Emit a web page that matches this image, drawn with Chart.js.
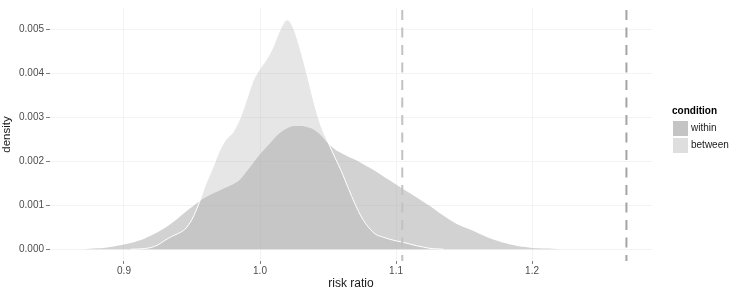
<!DOCTYPE html>
<html>
<head>
<meta charset="utf-8">
<script src="https://cdn.jsdelivr.net/npm/chart.js@4.4.1/dist/chart.umd.min.js"></script>
<style>
  body { margin: 0; background: #fff; }
</style>
</head>
<body>
<canvas id="densityChart" width="730" height="290"></canvas>
<script>
// density estimates, one value per x
const withinX = [0.870, 0.875, 0.880, 0.885, 0.890, 0.895, 0.900, 0.905, 0.910, 0.915,
  0.920, 0.925, 0.930, 0.935, 0.940, 0.945, 0.950, 0.955, 0.960, 0.965,
  0.970, 0.975, 0.980, 0.985, 0.990, 0.995, 1.000, 1.005, 1.010, 1.015,
  1.020, 1.025, 1.030, 1.035, 1.040, 1.045, 1.050, 1.055, 1.060, 1.065,
  1.070, 1.075, 1.080, 1.085, 1.090, 1.095, 1.100, 1.105, 1.110, 1.115,
  1.120, 1.125, 1.130, 1.135, 1.140, 1.145, 1.150, 1.155, 1.160, 1.165,
  1.170, 1.175, 1.180, 1.185, 1.190, 1.195, 1.200, 1.205, 1.210, 1.215, 1.220];
const withinY = [0, 0.00001, 0.00002, 0.00003, 0.00005, 0.00008, 0.00011, 0.00014, 0.00019, 0.00024,
  0.00031, 0.00039, 0.00048, 0.00059, 0.00071, 0.00084, 0.00096, 0.00108, 0.00118, 0.00126,
  0.00133, 0.00140, 0.00147, 0.00157, 0.00176, 0.00196, 0.00216, 0.00233, 0.00250, 0.00265,
  0.00275, 0.00280, 0.00280, 0.00277, 0.00271, 0.00258, 0.00241, 0.00227, 0.00218, 0.00210,
  0.00203, 0.00195, 0.00186, 0.00177, 0.00167, 0.00157, 0.00147, 0.00137, 0.00128, 0.00118,
  0.00108, 0.00098, 0.00087, 0.00076, 0.00066, 0.00057, 0.00050, 0.00044, 0.00037, 0.00030,
  0.00024, 0.00019, 0.00014, 0.00010, 0.00007, 0.00005, 0.00003, 0.00002, 0.000015, 0.00001, 0];

const betweenX = [0.905, 0.910, 0.915, 0.920, 0.925, 0.930, 0.935, 0.940, 0.945, 0.950,
  0.955, 0.960, 0.965, 0.970, 0.975, 0.980, 0.985, 0.990, 0.995, 1.000,
  1.005, 1.010, 1.015, 1.020, 1.025, 1.030, 1.035, 1.040, 1.045, 1.050,
  1.055, 1.060, 1.065, 1.070, 1.075, 1.080, 1.085, 1.090, 1.095, 1.100,
  1.105, 1.110, 1.115, 1.120, 1.125, 1.130, 1.135];
const betweenY = [0, 0.000005, 0.000015, 0.00004, 0.00010, 0.00020, 0.00029, 0.00036, 0.00046, 0.00068,
  0.00103, 0.00147, 0.00183, 0.00222, 0.00249, 0.00265, 0.00295, 0.00338, 0.00383, 0.00410,
  0.00432, 0.00462, 0.00500, 0.00521, 0.00499, 0.00450, 0.00392, 0.00330, 0.00279, 0.00243,
  0.00209, 0.00176, 0.00138, 0.00102, 0.00071, 0.00049, 0.00034, 0.00028, 0.00023, 0.00019,
  0.00016, 0.00012, 0.00008, 0.00005, 0.00002, 0.00001, 0];

const refLines = [1.1046, 1.2694];
const xTicks = [0.9, 1.0, 1.1, 1.2];
const yTicks = [0, 0.001, 0.002, 0.003, 0.004, 0.005];
const legendTitle = 'condition';
const legendLabels = ['within', 'between'];

const xMin = 0.8456, xMax = 1.2882;
const yMin = -0.000267, yMax = 0.005479;

const FONT = "'Liberation Sans', Arial, Helvetica, sans-serif";
const refColors = ['#c2c2c2', '#a4a4a4'];
const keyColors = ['#c4c4c4', '#dedede'];
const gridColor = '#f3f3f3';

function toPoints(xs, ys) {
    return xs.map((x, i) => ({x: x, y: ys[i]}));
}

let datasets = refLines.map((x, i) => ({
    data: [{x: x, y: yMax}, {x: x, y: yMin}],
    borderColor: refColors[i],
    borderWidth: 2,
    borderDash: [10, 7.5],
    borderDashOffset: 15.5,
    pointRadius: 0,
    fill: false,
    order: 0
}));

datasets.push({
    label: 'between',
    data: toPoints(betweenX, betweenY),
    backgroundColor: 'rgba(168,168,168,0.29)',
    borderColor: '#ffffff',
    borderWidth: 1,
    fill: 'origin',
    pointRadius: 0,
    cubicInterpolationMode: 'monotone',
    order: 1
});

datasets.push({
    label: 'within',
    data: toPoints(withinX, withinY),
    backgroundColor: 'rgba(160,160,160,0.47)',
    borderColor: 'rgba(0,0,0,0)',
    borderWidth: 0,
    fill: 'origin',
    pointRadius: 0,
    cubicInterpolationMode: 'monotone',
    order: 2
});

// ggplot style legend on the right
const sideLegend = {
    id: 'sideLegend',
    afterDraw(chart) {
        const ctx = chart.ctx;
        ctx.save();
        ctx.fillStyle = '#000';
        ctx.font = 'bold 10px ' + FONT;
        ctx.textBaseline = 'alphabetic';
        ctx.textAlign = 'left';
        ctx.fillText(legendTitle, 672, 114);
        ctx.font = '10px ' + FONT;
        ctx.textBaseline = 'middle';
        legendLabels.forEach((lab, i) => {
            let top = 121 + i * 17;
            ctx.fillStyle = keyColors[i];
            ctx.fillRect(673, top, 15, 15);
            ctx.fillStyle = '#1a1a1a';
            ctx.fillText(lab, 691, top + 7.5);
        });
        ctx.restore();
    }
};

new Chart(document.getElementById('densityChart'), {
    type: 'line',
    data: {datasets: datasets},
    options: {
        responsive: false,
        animation: false,
        layout: {padding: {top: 3, right: 78, left: 0, bottom: 0}},
        plugins: {
            legend: {display: false},
            tooltip: {enabled: false}
        },
        scales: {
            x: {
                type: 'linear',
                min: xMin,
                max: xMax,
                afterBuildTicks: s => { s.ticks = xTicks.map(v => ({value: v})); },
                afterFit: s => { s.height = 29; },
                ticks: {
                    callback: v => v.toFixed(1),
                    color: '#4d4d4d',
                    font: {family: FONT, size: 10},
                    padding: 1,
                    maxRotation: 0
                },
                grid: {color: gridColor, lineWidth: 1, tickColor: '#808080', tickLength: 3},
                border: {display: false},
                title: {
                    display: true,
                    text: 'risk ratio',
                    color: '#1a1a1a',
                    font: {family: FONT, size: 12, lineHeight: 1},
                    padding: 0
                }
            },
            y: {
                type: 'linear',
                min: yMin,
                max: yMax,
                afterBuildTicks: s => { s.ticks = yTicks.map(v => ({value: v})); },
                afterFit: s => { s.width = 50; },
                ticks: {
                    callback: v => v.toFixed(3),
                    color: '#4d4d4d',
                    font: {family: FONT, size: 10},
                    padding: 2
                },
                grid: {color: gridColor, lineWidth: 1, tickColor: '#808080', tickLength: 4},
                border: {display: false},
                title: {
                    display: true,
                    text: 'density',
                    color: '#1a1a1a',
                    font: {family: FONT, size: 11.5},
                    padding: 0
                }
            }
        }
    },
    plugins: [sideLegend]
});
</script>
</body>
</html>
